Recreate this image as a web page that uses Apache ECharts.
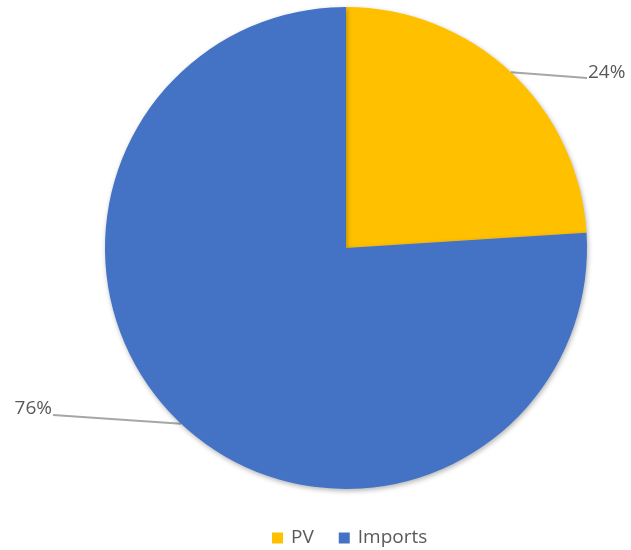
<!DOCTYPE html>
<html>
<head>
<meta charset="utf-8">
<script src="https://cdn.jsdelivr.net/npm/echarts@6/dist/echarts.min.js"></script>
<style>
  html, body { margin: 0; padding: 0; background: #fff; }
  #chart { width: 631px; height: 550px; }
</style>
</head>
<body>
<div id="chart"></div>
<script>
// Energy sources share
const categories = ['PV', 'Imports'];
const shares = [24, 76];
const colors = ['#FFC000', '#4472C4'];

const chart = echarts.init(document.getElementById('chart'), null, { renderer: 'canvas' });

// Where each percentage label sits, and where its leader line meets it
const labelSpots = [
  { x: 588, y: 73, align: 'left', lineEnd: [587, 78] },
  { x: 52, y: 409, align: 'right', lineEnd: [53, 415] }
];

chart.setOption({
  animation: false,
  legend: {
    top: 527,
    left: 272,
    padding: 0,
    itemWidth: 11,
    itemHeight: 11,
    itemGap: 25,
    icon: 'rect',
    textStyle: { fontFamily: 'Open Sans', fontSize: 19, color: '#595959', lineHeight: 22, padding: [0, 0, 0, 3] },
    data: categories
  },
  series: [{
    type: 'pie',
    center: [346, 248],
    radius: 241,
    startAngle: 90,
    clockwise: true,
    itemStyle: {
      shadowBlur: 5,
      shadowColor: 'rgba(0,0,0,0.3)',
      shadowOffsetX: 1,
      shadowOffsetY: 2
    },
    label: {
      formatter: '{d}%',
      fontFamily: 'Open Sans',
      fontSize: 19,
      color: '#595959'
    },
    labelLine: {
      show: true,
      length: 10,
      length2: 10,
      lineStyle: { color: '#A6A6A6', width: 2 }
    },
    labelLayout: function (params) {
      const s = labelSpots[params.dataIndex];
      const start = params.labelLinePoints ? params.labelLinePoints[0] : null;
      const out = { x: s.x, y: s.y, align: s.align, verticalAlign: 'middle' };
      if (start) out.labelLinePoints = [start, s.lineEnd];
      return out;
    },
    data: categories.map((c, i) => ({
      name: c,
      value: shares[i],
      itemStyle: { color: colors[i] }
    }))
  }]
});
</script>
</body>
</html>
